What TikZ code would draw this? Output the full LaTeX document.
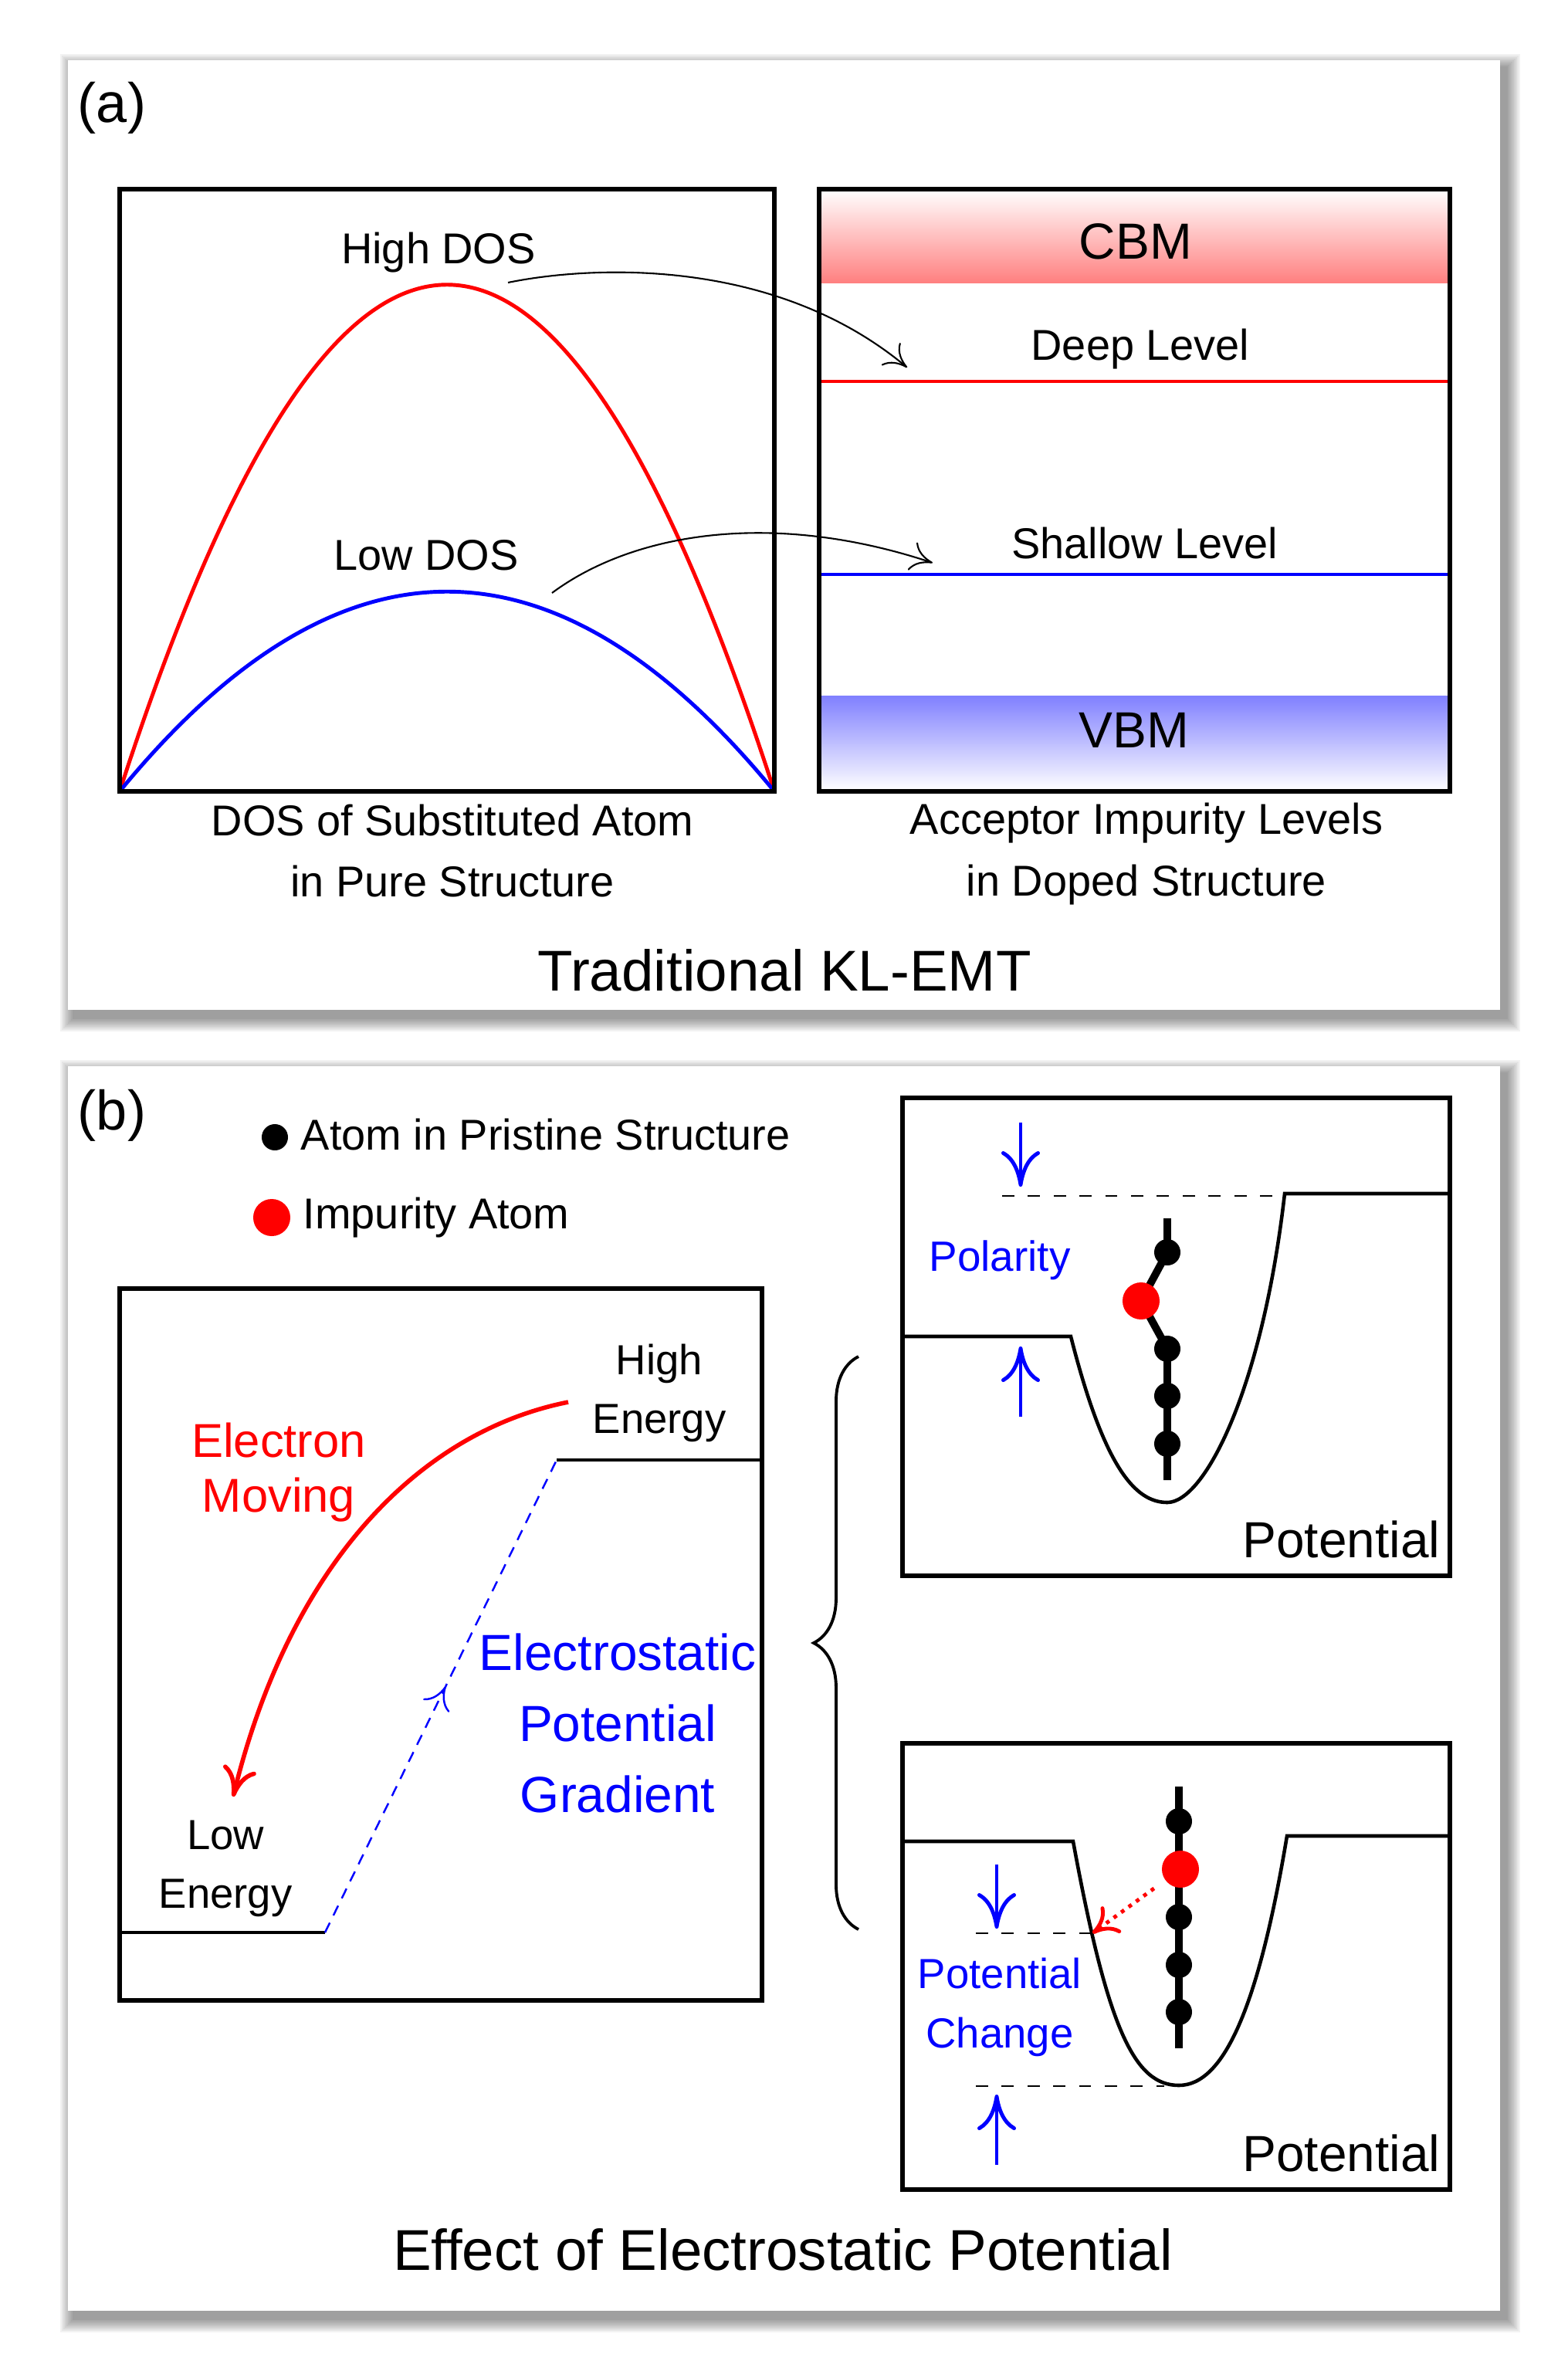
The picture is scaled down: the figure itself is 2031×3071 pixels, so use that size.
\documentclass[tikz,border=0pt]{standalone}
\usepackage{fontspec}
\setmainfont{Liberation Sans}
\usetikzlibrary{arrows.meta,positioning,decorations.pathreplacing,decorations.markings}

\definecolor{cbmred}{RGB}{255,128,128}
\definecolor{vbmblue}{RGB}{128,128,255}

\begin{document}
\begin{tikzpicture}[x=0.01cm,y=-0.01cm,>={To[length=2.8mm,width=3.8mm]},
    box/.style={draw,line width=1.5pt},
    txt/.style={font=\fontsize{15.9}{22.5}\selectfont,align=center,inner sep=0pt},
    mid txt/.style={font=\fontsize{18.7}{26.2}\selectfont,align=center,inner sep=0pt},
    big txt/.style={font=\fontsize{21.2}{26}\selectfont,inner sep=0pt},
    tag/.style={font=\fontsize{20.5}{24}\selectfont,inner sep=0pt},
    level/.style={line width=1.2pt},
    well/.style={line width=1.3pt},
    chain/.style={line width=2.8pt},
    dot/.style={circle,fill=black,minimum size=0.34cm,inner sep=0pt},
    impurity/.style={circle,fill=red,minimum size=0.48cm,inner sep=0pt},
    thin arrow/.style={->,line width=0.6pt},
    gap arrow/.style={->,blue,line width=1.4pt,>={To[length=4.6mm,width=5mm]}},
    guide/.style={dash pattern=on 4.5pt off 5pt,line width=0.8pt}]

    \useasboundingbox (0,0) rectangle (2031,3071);

    % Panels with soft shadow
    \foreach \s in {1,...,9} {
        \fill[black,opacity=0.05] (88-2*\s+8,78-2*\s+10) rectangle (1943+2*\s+8,1308+2*\s+10);
        \fill[black,opacity=0.05] (88-2*\s+8,1381-2*\s+10) rectangle (1943+2*\s+8,2993+2*\s+10);
    }
    \fill[white] (88,78) rectangle (1943,1308);
    \fill[white] (88,1381) rectangle (1943,2993);

    % ---------- (a) ----------
    \node[tag] (taga) at (145,140) {(a)};

    % DOS curves
    \draw[red,line width=1.4pt] (155,1025) .. controls (438,150) and (720,150) .. (1003,1025);
    \draw[blue,line width=1.4pt] (155,1025) .. controls (438,680) and (720,680) .. (1003,1025);
    \draw[box] (155,245) rectangle (1003,1025);

    % band edges and levels
    \shade[top color=white,bottom color=cbmred] (1061,245) rectangle (1878,366);
    \shade[top color=vbmblue,bottom color=white] (1061,901) rectangle (1878,1025);
    \draw[red,level] (1061,494) -- (1878,494);
    \draw[blue,level] (1061,744) -- (1878,744);
    \draw[box] (1061,245) rectangle (1878,1025);

    \node[mid txt] (cbm) at (1471,313) {CBM};
    \node[mid txt] (vbm) at (1469,946) {VBM};
    \node[txt] (deep) at (1477,452) {Deep Level};
    \node[txt] (shallow) at (1483,703) {Shallow Level};
    \node[txt] (hdos) at (568,327) {High DOS};
    \node[txt] (ldos) at (552,719) {Low DOS};

    \node[txt] (capl) at (586,1102) {DOS of Substituted Atom\\in Pure Structure};
    \node[txt] (capr) at (1485,1106) {Acceptor Impurity Levels\\in Doped Structure};
    \node[big txt] (titlea) at (1016,1257) {Traditional KL-EMT};

    % Draw arrows
    \coordinate (hd-from) at (658,366);
    \coordinate (deep-to) at (1175,476);
    \coordinate (ld-from) at (715,768);
    \coordinate (shallow-to) at (1208,729);
    \draw[thin arrow] (hd-from) .. controls (760,345) and (1000,330) .. (deep-to);
    \draw[thin arrow] (ld-from) .. controls (820,690) and (1000,660) .. (shallow-to);

    % ---------- (b) ----------
    \node[tag] (tagb) at (145,1445) {(b)};

    % legend
    \node[dot] (legdot) at (356,1473) {};
    \node[impurity] (legimp) at (352,1577) {};
    \node[txt,anchor=west] (legdottxt) at (389,1469) {Atom in Pristine Structure};
    \node[txt,anchor=west] (legimptxt) at (392,1577) {Impurity Atom};

    % energy levels
    \draw[box] (155,1669) rectangle (987,2591);
    \coordinate (high-start) at (721,1891);
    \coordinate (low-end) at (421,2503);
    \draw[level] (high-start) -- (987,1891);
    \draw[level] (155,2503) -- (low-end);
    \draw[blue,dash pattern=on 4pt off 3pt,line width=0.7pt,postaction={decorate},
        decoration={markings,mark=at position 0.52 with {\arrow{To[length=2.8mm,width=3.8mm]}}}]
        (low-end) -- (high-start);

    \coordinate (el-from) at (736,1816);
    \coordinate (el-to) at (302,2327);
    \draw[->,red,line width=1.6pt,>={To[length=3.8mm,width=4.4mm]}]
        (el-from) .. controls (540,1855) and (375,2030) .. (el-to);

    \node[txt,font=\fontsize{15.5}{21.6}\selectfont] (hien) at (854,1804) {High\\Energy};
    \node[txt,font=\fontsize{15.5}{21.6}\selectfont] (loen) at (292,2420) {Low\\Energy};
    \node[txt,red,font=\fontsize{17.5}{20.2}\selectfont] (elmov) at (361,1907) {Electron\\Moving};
    \node[mid txt,blue] (grad) at (800,2232) {Electrostatic\\Potential\\Gradient};

    % brace
    \draw[line width=1.1pt,decorate,decoration={brace,amplitude=0.58cm}] (1112,2499) -- (1112,1757);

    % top well: polarity
    \draw[well] (1169,1731) -- (1387,1731)
        .. controls (1430,1900) and (1470,1946) .. (1512,1946)
        .. controls (1560,1946) and (1635,1800) .. (1664,1546) -- (1878,1546);
    \draw[guide] (1298,1549) -- (1664,1549);
    \draw[gap arrow] (1322,1454) -- (1322,1537);
    \draw[gap arrow] (1322,1835) -- (1322,1744);

    \coordinate (a1) at (1512,1622);
    \coordinate (aimp) at (1478,1685);
    \coordinate (a2) at (1512,1747);
    \coordinate (a3) at (1512,1808);
    \coordinate (a4) at (1512,1870);
    \draw[chain] (1512,1578) -- (a1) -- (aimp) -- (a2) -- (1512,1917);
    \foreach \c in {a1,a2,a3,a4} \node[dot] (\c-dot) at (\c) {};
    \node[impurity] (imp-a) at (aimp) {};
    \draw[box] (1169,1422) rectangle (1878,2041);

    \node[txt,blue,font=\fontsize{15.6}{21}\selectfont] (polar) at (1295,1632) {Polarity};
    \node[mid txt,anchor=east] (pota) at (1866,1994) {Potential};

    % bottom well: potential change
    \draw[well] (1169,2385) -- (1390,2385)
        .. controls (1435,2630) and (1470,2701) .. (1527,2701)
        .. controls (1585,2701) and (1630,2600) .. (1667,2378) -- (1878,2378);
    \coordinate (wall) at (1415,2504);
    \draw[guide] (1264,2504) -- (wall);
    \draw[guide] (1264,2702) -- (1508,2702);
    \draw[gap arrow] (1291,2415) -- (1291,2498);
    \draw[gap arrow] (1291,2804) -- (1291,2713);

    \draw[chain] (1527,2314) -- (1527,2653);
    \foreach \c/\y in {b1/2359,b2/2483,b3/2545,b4/2606} \node[dot] (\c) at (1527,\y) {};
    \node[impurity] (imp-b) at (1529,2421) {};
    \draw[->,red,dotted,line width=1.4pt,shorten <=5pt,>={To[length=3.2mm,width=4.2mm]}] (imp-b) -- (wall);
    \draw[box] (1169,2258) rectangle (1878,2836);

    \node[txt,blue,font=\fontsize{15.5}{21.9}\selectfont] (potch) at (1295,2600) {Potential\\Change};
    \node[mid txt,anchor=east] (potb) at (1866,2789) {Potential};

    \node[big txt] (titleb) at (1014,2914) {Effect of Electrostatic Potential};

\end{tikzpicture}
\end{document}
